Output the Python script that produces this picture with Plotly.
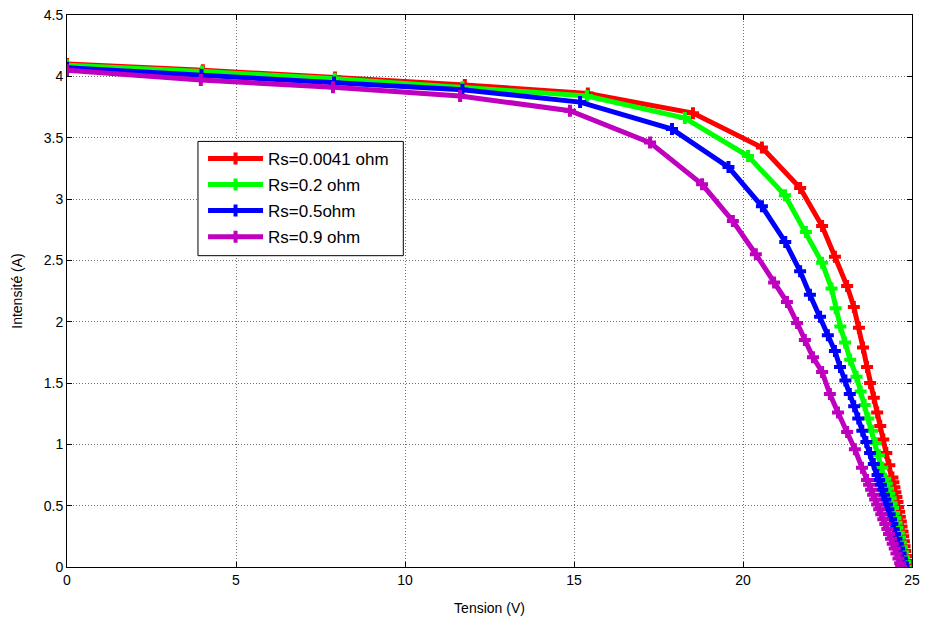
import plotly.graph_objects as go

# I-V characteristics of a PV module for several series resistances
labels = ["Rs=0.0041 ohm", "Rs=0.2 ohm", "Rs=0.5ohm", "Rs=0.9 ohm"]
colors = ["#ff0000", "#00ff00", "#0000ff", "#bf00bf"]

v_rs0041 = [0, 4.02, 7.93, 11.77, 15.41, 18.52, 20.56, 21.69, 22.34, 22.72,
            23.08, 23.28, 23.43, 23.55, 23.67, 23.76, 23.87, 23.97, 24.06, 24.15,
            24.24, 24.33, 24.42, 24.45, 24.48, 24.51, 24.54, 24.57, 24.59, 24.62,
            24.64, 24.67, 24.69, 24.72, 24.74, 24.76, 24.78, 24.80, 24.82, 24.84,
            24.85, 24.86]
i_rs0041 = [4.10, 4.05, 3.99, 3.93, 3.86, 3.70, 3.42, 3.09, 2.78, 2.53,
            2.29, 2.12, 1.95, 1.79, 1.63, 1.50, 1.38, 1.26, 1.15, 1.04,
            0.93, 0.83, 0.73, 0.69, 0.65, 0.61, 0.57, 0.53, 0.49, 0.45,
            0.41, 0.37, 0.33, 0.29, 0.25, 0.21, 0.17, 0.13, 0.09, 0.05,
            0.02, 0.0]

v_rs02 = [0, 4.00, 7.92, 11.70, 15.38, 18.28, 20.15, 21.24, 21.86, 22.34,
          22.62, 22.74, 22.88, 23.02, 23.17, 23.36, 23.48, 23.60, 23.71, 23.82,
          23.92, 24.02, 24.12, 24.21, 24.25, 24.29, 24.33, 24.37, 24.40, 24.44,
          24.47, 24.51, 24.54, 24.57, 24.61, 24.64, 24.67, 24.70, 24.73, 24.76,
          24.79, 24.81]
i_rs02 = [4.09, 4.04, 3.98, 3.91, 3.84, 3.66, 3.35, 3.03, 2.73, 2.48,
          2.27, 2.11, 1.96, 1.83, 1.69, 1.55, 1.43, 1.32, 1.21, 1.11,
          1.01, 0.91, 0.81, 0.72, 0.68, 0.64, 0.60, 0.56, 0.52, 0.48,
          0.44, 0.40, 0.36, 0.32, 0.28, 0.24, 0.20, 0.16, 0.12, 0.08,
          0.04, 0.0]

v_rs05 = [0, 3.98, 7.90, 11.70, 15.18, 17.90, 19.57, 20.56, 21.25, 21.69,
          21.98, 22.28, 22.51, 22.72, 22.87, 23.03, 23.16, 23.29, 23.41, 23.53,
          23.65, 23.76, 23.87, 23.98, 24.03, 24.08, 24.12, 24.17, 24.21, 24.26,
          24.30, 24.34, 24.38, 24.42, 24.46, 24.50, 24.54, 24.58, 24.62, 24.66,
          24.70, 24.73, 24.75]
i_rs05 = [4.07, 4.01, 3.95, 3.89, 3.79, 3.57, 3.26, 2.94, 2.65, 2.41,
          2.22, 2.04, 1.89, 1.76, 1.63, 1.52, 1.41, 1.31, 1.21, 1.11,
          1.02, 0.93, 0.84, 0.75, 0.71, 0.67, 0.63, 0.59, 0.55, 0.51,
          0.47, 0.43, 0.39, 0.35, 0.31, 0.27, 0.23, 0.19, 0.15, 0.11,
          0.07, 0.03, 0.0]

v_rs09 = [0, 3.96, 7.87, 11.63, 14.88, 17.25, 18.79, 19.70, 20.38, 20.92,
          21.30, 21.60, 21.83, 22.07, 22.34, 22.57, 22.81, 23.08, 23.31, 23.52,
          23.67, 23.73, 23.79, 23.85, 23.91, 23.97, 24.03, 24.09, 24.15, 24.21,
          24.27, 24.32, 24.38, 24.43, 24.49, 24.54, 24.60, 24.65, 24.68]
i_rs09 = [4.05, 3.97, 3.91, 3.84, 3.72, 3.46, 3.12, 2.82, 2.55, 2.32,
          2.16, 1.99, 1.85, 1.71, 1.59, 1.41, 1.26, 1.10, 0.96, 0.81,
          0.71, 0.67, 0.63, 0.59, 0.55, 0.51, 0.47, 0.43, 0.39, 0.35,
          0.31, 0.27, 0.23, 0.19, 0.15, 0.11, 0.07, 0.03, 0.0]

x_ticks = [0, 5, 10, 15, 20, 25]
y_ticks = [0, 0.5, 1, 1.5, 2, 2.5, 3, 3.5, 4, 4.5]

series = [(v_rs0041, i_rs0041), (v_rs02, i_rs02), (v_rs05, i_rs05), (v_rs09, i_rs09)]

FONT = "Liberation Sans, Arial"

fig = go.Figure()
for k, ((v, i), name, col) in enumerate(zip(series, labels, colors)):
    fig.add_trace(go.Scatter(
        x=v, y=i, name=name, mode="lines+markers", legendgroup=f"g{k}",
        line=dict(color=col, width=5),
        marker=dict(symbol="cross", size=10, color=col),
    ))

axis_common = dict(
    showline=True, linecolor="black", linewidth=1, mirror="ticks",
    ticks="inside", ticklen=5, tickcolor="black", automargin=False,
    showgrid=True, gridcolor="#707070", griddash="1px,2px", gridwidth=1,
    zeroline=False, tickfont=dict(family=FONT, size=14, color="black"),
)

fig.update_xaxes(range=[0, 25], tickvals=x_ticks, ticktext=[str(t) for t in x_ticks],
                 title=dict(text="Tension (V)", standoff=16,
                            font=dict(family=FONT, size=14, color="black")),
                 **axis_common)
fig.update_yaxes(range=[0, 4.5], tickvals=y_ticks, ticktext=[f"{t:g}" for t in y_ticks],
                 title=dict(text="Intensité (A)", standoff=17,
                            font=dict(family=FONT, size=14, color="black")),
                 **axis_common)

# legend frame
fig.add_shape(type="rect", xref="paper", yref="paper",
              x0=0.155, x1=0.398, y0=0.564, y1=0.771,
              line=dict(color="black", width=1), fillcolor="white", layer="above")

fig.update_layout(
    width=925, height=621,
    margin=dict(l=67, r=13, t=15, b=54),
    paper_bgcolor="white", plot_bgcolor="white",
    showlegend=True,
    legend=dict(
        x=0.161, y=0.772, xanchor="left", yanchor="top",
        bgcolor="rgba(0,0,0,0)", borderwidth=0,
        font=dict(family=FONT, size=17, color="black"),
        itemwidth=55, traceorder="grouped", tracegroupgap=1,
    ),
)

fig.write_html("out.html")
